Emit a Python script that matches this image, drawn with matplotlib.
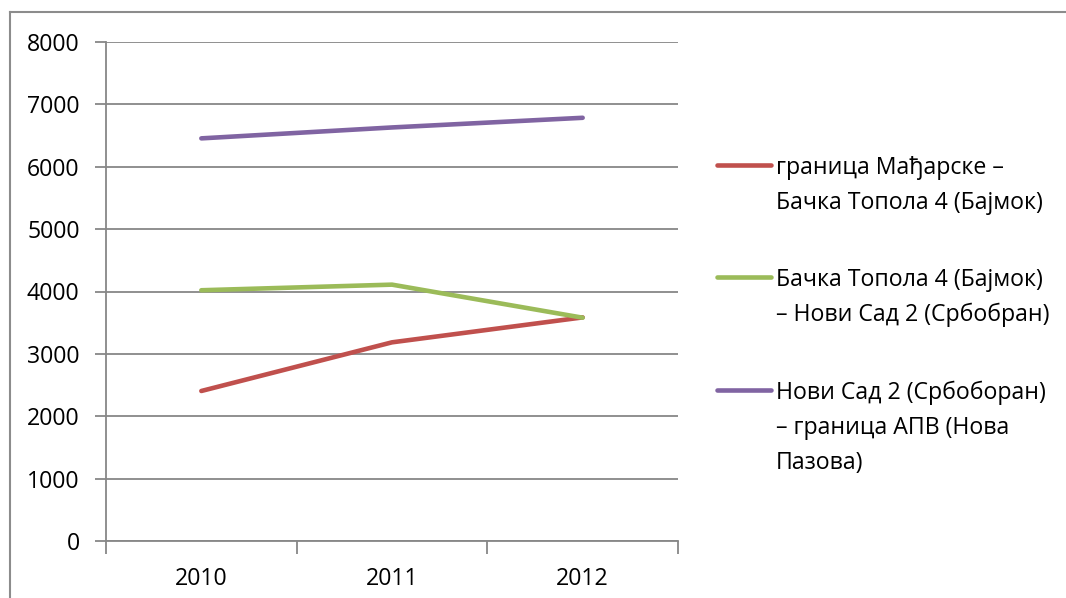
import matplotlib
matplotlib.use("Agg")
import matplotlib.pyplot as plt
from matplotlib.lines import Line2D

plt.rcParams['font.family'] = ['Open Sans', 'DejaVu Sans']

# data
years = ['2010', '2011', '2012']
hungary_topola = [2405, 3185, 3585]
topola_novisad = [4020, 4110, 3580]
novisad_apv = [6455, 6630, 6785]

labels = [
    'граница Мађарске –\nБачка Топола 4 (Бајмок)',
    'Бачка Топола 4 (Бајмок)\n– Нови Сад 2 (Србобран)',
    'Нови Сад 2 (Србоборан)\n– граница АПВ (Нова\nПазова)',
]
colors = ['#C0504D', '#9BBB59', '#8064A2']
yticks = list(range(0, 8001, 1000))

FS = 16.7
W, H = 1066, 598
fig = plt.figure(figsize=(W / 100, H / 100), dpi=100)
ax = fig.add_axes([106 / W, (H - 541) / H, (678 - 106) / W, (541 - 42) / H])

grid_col = '#878787'
x = list(range(len(years)))
for vals, c in zip([hungary_topola, topola_novisad, novisad_apv], colors):
    ax.plot(x, vals, color=c, lw=3.3, solid_capstyle='round', solid_joinstyle='round', zorder=3)

ax.set_xlim(-0.5, len(years) - 0.5)
ax.set_ylim(0, 8000)
ax.set_yticks(yticks)
ax.set_yticklabels([str(v) for v in yticks])
ax.yaxis.grid(True, color=grid_col, lw=1.3)
ax.set_axisbelow(True)

# category boundaries get the tick marks, labels sit in the middle
ax.set_xticks([i - 0.5 for i in range(len(years) + 1)])
ax.set_xticklabels([])
ax.set_xticks(x, minor=True)
ax.set_xticklabels(years, minor=True)
ax.tick_params(axis='x', which='major', length=9, width=1.3, color=grid_col, direction='out')
ax.tick_params(axis='x', which='minor', length=0, pad=19, labelsize=FS)
ax.tick_params(axis='y', length=8, width=1.3, color=grid_col, pad=11, labelsize=FS)

for s in ['top', 'right']:
    ax.spines[s].set_visible(False)
for s in ['left', 'bottom']:
    ax.spines[s].set_color(grid_col)
    ax.spines[s].set_linewidth(1.3)

# outer chart frame (only top and left edges are visible)
fig.add_artist(Line2D([10 / W, 1], [1 - 12 / H] * 2, transform=fig.transFigure, color='#8c8c8c', lw=1.5))
fig.add_artist(Line2D([10 / W] * 2, [0, 1 - 12 / H], transform=fig.transFigure, color='#8c8c8c', lw=1.5))

# legend drawn by hand so the handle lines up with the first text row
handle_y = [165, 277, 390]
for lab, c, hy in zip(labels, colors, handle_y):
    fig.add_artist(Line2D([717 / W, 771 / W], [1 - hy / H] * 2, transform=fig.transFigure,
                          color=c, lw=3.3, solid_capstyle='round'))
    for i, line in enumerate(lab.split('\n')):
        fig.text(776 / W, 1 - (hy + 9 + 35 * i) / H, line, fontsize=FS,
                 ha='left', va='baseline', color='black')

fig.savefig('out.png', dpi=100)
